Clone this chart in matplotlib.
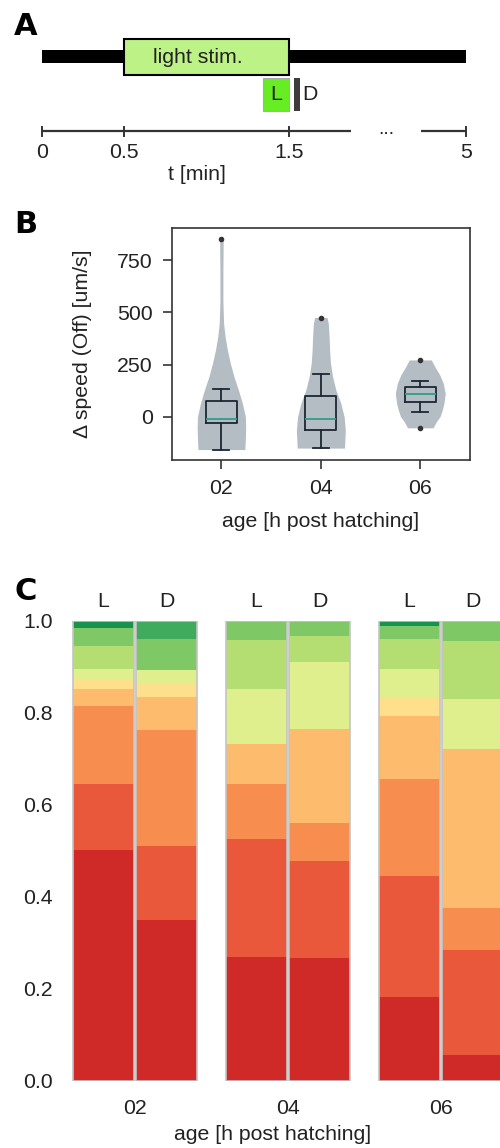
import numpy as np
import matplotlib
matplotlib.use("Agg")
import matplotlib.pyplot as plt
from matplotlib.patches import Rectangle

plt.rcParams['font.family'] = ['Liberation Sans', 'DejaVu Sans']

# ---------------- data ----------------
# Panel A: protocol (minutes)
stim_on, stim_off = 0.5, 1.5
win_L = (1.34, 1.5)
win_D = (1.53, 1.565)
t_ticks = [0, 0.5, 1.5, 5]
t_tick_labels = ["0", "0.5", "1.5", "5"]
t_break = (1.873, 2.30)
t_end_pos = 2.572          # axis position where "5" is drawn (broken axis)

# Panel B: delta speed (Off) per age
ages = ["02", "04", "06"]
box_q1 = [-28, -62, 69]
box_med = [-12, -11, 108]
box_q3 = [75, 101, 144]
box_whislo = [-159, -151, 24]
box_whishi = [133, 206, 171]
box_fliers = [[849], [474], [273, -53]]
# violin outlines (speed level, half width in category units)
vio02_y = [-157, -100, -50, 0, 64, 128, 192, 255, 319, 383, 447, 550, 700, 849]
vio02_w = [0.236, 0.241, 0.244, 0.241, 0.211, 0.171, 0.126, 0.090, 0.060, 0.037, 0.022, 0.015, 0.015, 0.018]
vio04_y = [-150, -64, 0, 64, 128, 192, 255, 319, 383, 447, 475]
vio04_w = [0.238, 0.246, 0.234, 0.201, 0.151, 0.118, 0.097, 0.088, 0.083, 0.075, 0.062]
vio06_y = [-53, -20, 0, 32, 64, 112, 160, 200, 240, 272]
vio06_w = [0.128, 0.166, 0.198, 0.221, 0.238, 0.251, 0.231, 0.196, 0.146, 0.111]

# Panel C: fraction of larvae per response class (class 0 = red ... 9 = dark green)
bar_labels = ["L", "D", "L", "D", "L", "D"]
frac_02_L = [0.503, 0.142, 0.170, 0.037, 0.019, 0.024, 0.051, 0.038, 0.000, 0.016]
frac_02_D = [0.349, 0.161, 0.253, 0.072, 0.031, 0.028, 0.000, 0.067, 0.039, 0.000]
frac_04_L = [0.269, 0.258, 0.118, 0.087, 0.000, 0.121, 0.106, 0.041, 0.000, 0.000]
frac_04_D = [0.267, 0.211, 0.083, 0.204, 0.000, 0.146, 0.057, 0.032, 0.000, 0.000]
frac_06_L = [0.182, 0.263, 0.212, 0.137, 0.039, 0.063, 0.065, 0.029, 0.000, 0.010]
frac_06_D = [0.057, 0.228, 0.091, 0.345, 0.000, 0.109, 0.127, 0.043, 0.000, 0.000]

class_colors = ["#cf2a27", "#e9583a", "#f88d50", "#fdbb6e", "#fee08c",
                "#dfef8e", "#b4dd72", "#7ec866", "#40ab5c", "#17934e"]

# ---------------- figure ----------------
W, H = 500, 1148
fig = plt.figure(figsize=(W / 100, H / 100), dpi=100)

def rect(l, t, r, b):
    return [l / W, 1 - b / H, (r - l) / W, (b - t) / H]

FS = 15.3
txtc = "#222222"

# ---------- Panel A ----------
axA = fig.add_axes([0, 1 - 200 / H, 1, 200 / H])
axA.set_xlim((0 - 41.7) / 165, (500 - 41.7) / 165)
axA.set_ylim(200, 0)
axA.axis("off")

def tpos(t):
    return t if t <= 2 else t_end_pos

axA.add_patch(Rectangle((0, 50), tpos(5) - 0, 13.3, color="black", lw=0))
axA.add_patch(Rectangle((stim_on, 39.3), stim_off - stim_on, 35.4,
                        facecolor="#bdf286", edgecolor="black", lw=1.5))
axA.text(0.945, 57.5, "light stim.", ha="center", va="center", fontsize=FS, color=txtc)
axA.add_patch(Rectangle((win_L[0], 78.3), win_L[1] - win_L[0], 32.7,
                        facecolor="#66ee22", edgecolor="#aaaaaa", lw=0.8))
axA.text((win_L[0] + win_L[1]) / 2, 95, "L", ha="center", va="center", fontsize=FS, color=txtc)
axA.add_patch(Rectangle((win_D[0], 78.3), win_D[1] - win_D[0], 32.7,
                        facecolor="#3c3c3c", edgecolor="none"))
axA.text(win_D[1] + 0.013, 95, "D", ha="left", va="center", fontsize=FS, color=txtc)

lc = "#333333"
axA.plot([0, t_break[0]], [130.7, 130.7], color=lc, lw=1.6, solid_capstyle="butt")
axA.plot([t_break[1], tpos(5)], [130.7, 130.7], color=lc, lw=1.6, solid_capstyle="butt")
for t, lab in zip(t_ticks, t_tick_labels):
    axA.plot([tpos(t), tpos(t)], [126.5, 136], color=lc, lw=1.4)
    axA.text(tpos(t), 152, lab, ha="center", va="center", fontsize=FS, color=txtc)
axA.text((t_break[0] + t_break[1]) / 2, 133.5, "...", ha="center", va="baseline",
         fontsize=14, color=txtc)
axA.text(0.94, 175, "t [min]", ha="center", va="center", fontsize=FS, color=txtc)

# ---------- Panel B ----------
axB = fig.add_axes(rect(171.7, 228.3, 470, 460))
pos = np.arange(len(ages))
for p, vy, vw in zip(pos, [vio02_y, vio04_y, vio06_y], [vio02_w, vio04_w, vio06_w]):
    vy = np.asarray(vy, float)
    vw = np.asarray(vw, float)
    axB.fill_betweenx(vy, p - vw, p + vw, color="#b4bdc4", lw=0, zorder=1)

stats = []
for i in range(len(ages)):
    stats.append(dict(med=box_med[i], q1=box_q1[i], q3=box_q3[i],
                      whislo=box_whislo[i], whishi=box_whishi[i],
                      fliers=box_fliers[i]))
boxc = "#1d2733"
axB.bxp(stats, positions=pos, widths=0.31, capwidths=0.16, showfliers=True,
        boxprops=dict(color=boxc, lw=1.3),
        whiskerprops=dict(color=boxc, lw=1.3),
        capprops=dict(color=boxc, lw=1.3),
        medianprops=dict(color="#2f9e89", lw=1.3),
        flierprops=dict(marker="o", markersize=3, markerfacecolor="#333333",
                        markeredgecolor="#333333"),
        zorder=3)
axB.set_xlim(-0.5, 2.5)
axB.set_ylim(-207, 902)
axB.set_yticks([0, 250, 500, 750])
axB.set_xticks(pos)
axB.set_xticklabels(ages)
axB.tick_params(labelsize=FS, length=6.5, width=1.2, color=lc, labelcolor=txtc, pad=7)
for s in axB.spines.values():
    s.set_color(lc)
    s.set_linewidth(1.2)
axB.set_ylabel("Δ speed (Off) [um/s]", fontsize=FS, color=txtc, labelpad=18)
axB.set_xlabel("age [h post hatching]", fontsize=FS, color=txtc, labelpad=10)

# ---------- Panel C ----------
axC = fig.add_axes(rect(70.7, 621, 510, 1081))
fracs = [frac_02_L, frac_02_D, frac_04_L, frac_04_D, frac_06_L, frac_06_D]
group_pos = np.arange(3)
off = 0.2065
bw = 0.403
xpos = []
for g in group_pos:
    xpos += [g - off, g + off]
xpos = np.array(xpos)
fr = np.array(fracs)  # bars x classes
bottom = np.zeros(len(xpos))
for k in range(fr.shape[1]):
    axC.bar(xpos, fr[:, k], bottom=bottom, width=bw, color=class_colors[k], lw=0)
    bottom += fr[:, k]
axC.bar(xpos, bottom, width=bw, fill=False, edgecolor="#c4c4c4", lw=1.2)
for x, lab in zip(xpos, bar_labels):
    axC.text(x, 1.022, lab, ha="center", va="bottom", fontsize=FS, color=txtc)
axC.set_xlim(-0.42, (510 - 135) / 153)
axC.set_ylim(0, 1.0)
axC.set_xticks(group_pos)
axC.set_xticklabels(ages)
axC.set_yticks([0, 0.2, 0.4, 0.6, 0.8, 1.0])
axC.set_yticklabels(["0.0", "0.2", "0.4", "0.6", "0.8", "1.0"])
axC.tick_params(axis="y", length=0, labelsize=FS, labelcolor=txtc, pad=13)
axC.tick_params(axis="x", length=0, labelsize=FS, labelcolor=txtc, pad=13)
for s in axC.spines.values():
    s.set_visible(False)
fig.text(273 / W, 1 - 1135 / H, "age [h post hatching]", ha="center", va="center",
         fontsize=FS, color=txtc)

# panel letters
for lab, yb in [("A", 35), ("B", 233), ("C", 600)]:
    fig.text(14 / W, 1 - yb / H, lab, ha="left", va="baseline", fontsize=22,
             fontweight="heavy", family=["DejaVu Sans"], color="black")

fig.savefig("out.png", dpi=100)
